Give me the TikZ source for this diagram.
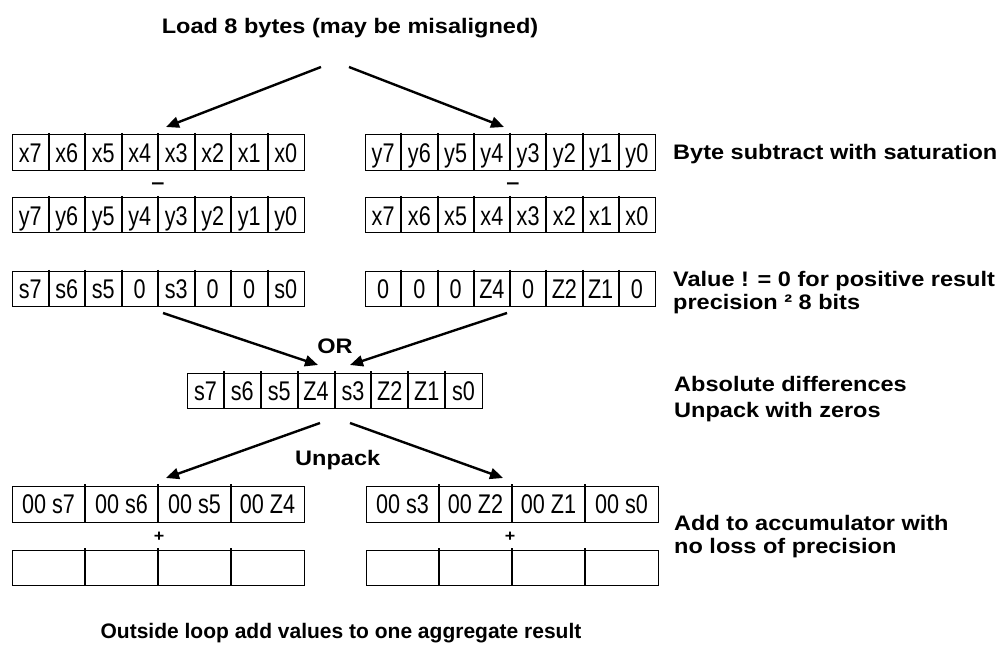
\documentclass[tikz,border=0pt]{standalone}
\usepackage{fontspec}
\setmainfont{Liberation Sans}
\newfontfamily\labfont[FakeStretch=1.12]{Liberation Sans}
\newfontfamily\notefont{Liberation Sans}
\newfontfamily\cellfont[FakeStretch=0.8]{Liberation Sans}
\usetikzlibrary{arrows.meta}

\tikzset{
  lab/.style={font=\labfont\bfseries\fontsize{21}{24}\selectfont, inner sep=0pt, anchor=base west},
  ctr/.style={font=\labfont\bfseries\fontsize{21}{24}\selectfont, inner sep=0pt, anchor=base},
  opsign/.style={font=\labfont\bfseries\fontsize{16}{18}\selectfont, inner sep=0pt},
  cell/.style={font=\cellfont\fontsize{27}{30}\selectfont, inner sep=0pt, anchor=base},
  outline/.style={line width=1pt},
  divider/.style={line width=2pt},
  flow/.style={line width=2.4pt, -{Triangle[length=13pt,width=11pt]}},
}

% \byterow{name}{cells}{left}{right}{top}{bottom}{entries}
\newcommand{\byterow}[7]{%
  \draw[outline] (#3,#5) rectangle (#4,#6);
  \pgfmathsetmacro\cw{(#4-#3)/#2}
  \foreach \t [count=\i] in {#7} {
    \pgfmathsetmacro\cl{#3+(\i-1)*\cw}
    \node[cell] (#1-\i) at ({\cl+\cw/2},{(#5+#6)/2+9.7}) {\t};
    \ifnum\i>1 \draw[divider] (\cl,#5-2) -- (\cl,#6); \fi
  }
}

\begin{document}
\begin{tikzpicture}[x=1pt,y=-1pt]
\useasboundingbox[fill=white] (0,0) rectangle (1006,652);

% title and load arrows
\node[ctr] (title) at (350,34) {Load 8 bytes (may be misaligned)};
\coordinate (la0) at (321,67);  \coordinate (la1) at (166,127);
\coordinate (ra0) at (349,67);  \coordinate (ra1) at (504,127);
\draw[flow] (la0) -- (la1);
\draw[flow] (ra0) -- (ra1);

% byte subtraction
\byterow{ax}{8}{12}{304}{135}{171}{x7,x6,x5,x4,x3,x2,x1,x0}
\byterow{ay}{8}{365}{655}{135}{171}{y7,y6,y5,y4,y3,y2,y1,y0}
\node[opsign,font=\labfont\bfseries\fontsize{21}{24}\selectfont] (minl) at (158,186) {–};
\node[opsign,font=\labfont\bfseries\fontsize{21}{24}\selectfont] (minr) at (513,186) {–};
\byterow{by}{8}{12}{304}{198}{233}{y7,y6,y5,y4,y3,y2,y1,y0}
\byterow{bx}{8}{365}{655}{198}{233}{x7,x6,x5,x4,x3,x2,x1,x0}

% saturated results
\byterow{cs}{8}{12}{304}{272}{306}{s7,s6,s5,0,s3,0,0,s0}
\byterow{cz}{8}{365}{655}{272}{306}{0,0,0,Z4,0,Z2,Z1,0}

% combine with OR
\coordinate (oa0) at (163,313); \coordinate (oa1) at (318,365);
\coordinate (ob0) at (507,313); \coordinate (ob1) at (350,365);
\draw[flow] (oa0) -- (oa1);
\draw[flow] (ob0) -- (ob1);
\node[ctr] (or) at (335,353) {OR};
\byterow{abs}{8}{187}{482}{373}{408}{s7,s6,s5,Z4,s3,Z2,Z1,s0}

% unpack
\coordinate (ua0) at (320,423); \coordinate (ua1) at (166,478);
\coordinate (ub0) at (350,423); \coordinate (ub1) at (503,478);
\draw[flow] (ua0) -- (ua1);
\draw[flow] (ub0) -- (ub1);
\node[lab] (unpack) at (295,465) {Unpack};
\byterow{wl}{4}{12}{304}{486}{522}{00 s7,00 s6,00 s5,00 Z4}
\byterow{wr}{4}{366}{658}{486}{522}{00 s3,00 Z2,00 Z1,00 s0}

% accumulators
\node[opsign] (plusl) at (159,537) {+};
\node[opsign] (plusr) at (510,537) {+};
\byterow{accl}{4}{12}{304}{550}{585}{{},{},{},{}}
\byterow{accr}{4}{366}{658}{550}{585}{{},{},{},{}}

% side notes
\node[lab] (n1) at (673,160) {Byte subtract with saturation};
\node[lab] (n2) at (673,287) {Value ! = 0 for positive result};
\node[lab] (n3) at (673,309) {precision ² 8 bits};
\node[lab] (n4) at (674,391) {Absolute differences};
\node[lab] (n5) at (674,417) {Unpack with zeros};
\node[lab] (n6) at (674,530) {Add to accumulator with};
\node[lab] (n7) at (674,553) {no loss of precision};

\node[ctr, font=\notefont\bfseries\fontsize{21}{24}\selectfont] (outer) at (341,638) {Outside loop add values to one aggregate result};
\end{tikzpicture}
\end{document}
